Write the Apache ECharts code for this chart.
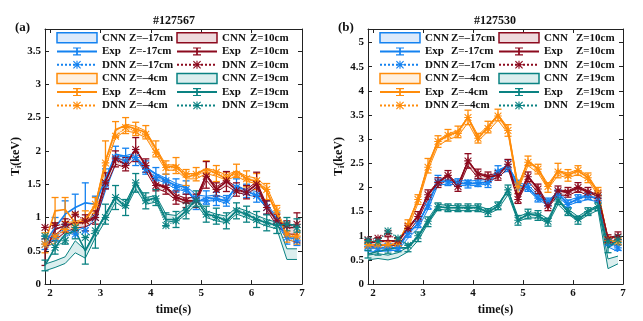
<!DOCTYPE html>
<html><head><meta charset="utf-8">
<script src="https://cdn.jsdelivr.net/npm/echarts@6/dist/echarts.min.js"></script>
<style>html,body{margin:0;padding:0;background:#fff}#c{width:643px;height:321px}</style>
</head><body><div id="c"></div>
<script>
// ---------------- data ----------------
const times = [1.9,2.1,2.3,2.5,2.7,2.9,3.1,3.3,3.5,3.7,3.9,4.1,4.3,4.5,4.7,4.9,5.1,5.3,5.5,5.7,5.9,6.1,6.3,6.5,6.7,6.9];
const xTickValues = [2,3,4,5,6,7];
const yTickValuesA = [0,0.5,1,1.5,2,2.5,3,3.5];
const yTickValuesB = [0,0.5,1,1.5,2,2.5,3,3.5,4,4.5,5];

// (a) #127567
const a_blue_cnn  = [0.60,0.65,0.75,0.85,0.90,1.00,1.45,1.85,1.88,1.92,1.72,1.62,1.55,1.47,1.43,1.30,1.28,1.30,1.25,1.42,1.38,1.35,1.18,0.95,0.72,0.68];
const a_blue_half = [0.04,0.04,0.04,0.05,0.05,0.05,0.05,0.05,0.05,0.05,0.04,0.04,0.04,0.04,0.04,0.04,0.04,0.04,0.04,0.04,0.04,0.04,0.04,0.04,0.05,0.05];
const a_blue_exp  = [0.62,0.85,1.05,1.15,1.22,1.20,1.58,1.95,1.92,1.90,1.75,1.65,1.55,1.48,1.45,1.22,1.30,1.28,1.25,1.48,1.40,1.33,1.15,0.98,0.70,0.68];
const a_blue_err  = [0.10,0.15,0.20,0.20,0.30,0.12,0.15,0.12,0.12,0.12,0.10,0.10,0.10,0.10,0.10,0.10,0.10,0.10,0.08,0.10,0.10,0.10,0.10,0.10,0.10,0.10];
const a_blue_dnn  = [0.60,0.70,0.85,0.75,0.80,1.00,1.50,1.90,1.85,1.90,1.72,1.60,1.55,1.45,1.42,1.28,1.25,1.28,1.25,1.45,1.38,1.33,1.15,0.95,0.70,0.65];

const a_orange_cnn  = [0.62,0.65,0.88,0.90,0.95,1.15,1.80,2.25,2.35,2.32,2.25,2.00,1.75,1.75,1.62,1.62,1.70,1.66,1.60,1.66,1.58,1.55,1.42,1.08,0.72,0.68];
const a_orange_half = [0.04,0.04,0.04,0.04,0.04,0.05,0.05,0.05,0.05,0.05,0.05,0.05,0.04,0.04,0.04,0.04,0.04,0.04,0.04,0.04,0.04,0.04,0.04,0.04,0.05,0.05];
const a_orange_exp  = [0.62,1.10,1.12,0.92,0.95,1.18,1.85,2.32,2.38,2.33,2.28,2.03,1.75,1.78,1.60,1.65,1.73,1.66,1.58,1.70,1.58,1.54,1.39,1.06,0.73,0.70];
const a_orange_err  = [0.15,0.20,0.18,0.15,0.15,0.12,0.30,0.12,0.12,0.10,0.10,0.12,0.10,0.12,0.12,0.10,0.12,0.12,0.10,0.10,0.12,0.12,0.12,0.12,0.10,0.10];
const a_orange_dnn  = [0.60,0.72,0.82,0.88,0.95,1.20,1.82,2.22,2.35,2.30,2.25,1.98,1.75,1.75,1.65,1.65,1.68,1.68,1.60,1.65,1.58,1.55,1.42,1.10,0.75,0.72];

const a_red_cnn  = [0.62,0.70,0.82,0.88,0.90,0.98,1.50,1.85,1.80,1.95,1.75,1.48,1.42,1.30,1.25,1.27,1.60,1.42,1.52,1.42,1.38,1.50,1.15,0.92,0.80,0.80];
const a_red_half = [0.04,0.04,0.04,0.04,0.04,0.04,0.05,0.05,0.05,0.05,0.05,0.04,0.04,0.04,0.04,0.04,0.04,0.04,0.04,0.04,0.04,0.04,0.04,0.04,0.05,0.05];
const a_red_exp  = [0.48,0.82,0.88,0.92,0.92,1.00,1.55,1.88,1.80,2.02,1.78,1.50,1.45,1.30,1.25,1.25,1.64,1.42,1.54,1.42,1.38,1.50,1.15,0.95,0.85,0.85];
const a_red_err  = [0.20,0.10,0.10,0.12,0.12,0.10,0.12,0.12,0.10,0.18,0.10,0.10,0.10,0.10,0.10,0.10,0.20,0.10,0.15,0.10,0.10,0.18,0.10,0.10,0.10,0.22];
const a_red_dnn  = [0.85,0.88,0.90,1.05,0.95,1.00,1.52,1.88,1.78,2.02,1.78,1.48,1.45,1.30,1.25,1.25,1.62,1.42,1.55,1.40,1.38,1.50,1.15,0.95,0.88,0.90];

const a_teal_cnn  = [0.25,0.30,0.36,0.56,0.45,0.75,1.00,1.28,1.18,1.48,1.25,1.28,1.00,0.98,1.10,1.25,1.05,1.00,0.97,1.10,1.05,0.98,0.92,0.88,0.45,0.45];
const a_teal_half = [0.05,0.05,0.05,0.09,0.06,0.05,0.05,0.05,0.05,0.05,0.05,0.05,0.05,0.05,0.05,0.05,0.05,0.05,0.05,0.05,0.05,0.05,0.05,0.05,0.08,0.08];
const a_teal_exp  = [0.28,0.55,0.75,0.80,0.50,0.77,1.05,1.30,1.15,1.52,1.25,1.30,0.97,0.97,1.10,1.28,1.05,1.02,0.95,1.10,1.05,0.97,0.92,0.88,0.90,0.88];
const a_teal_err  = [0.08,0.10,0.15,0.12,0.20,0.23,0.15,0.18,0.12,0.14,0.12,0.12,0.10,0.12,0.12,0.12,0.12,0.12,0.12,0.12,0.12,0.12,0.12,0.12,0.10,0.10];
const a_teal_dnn  = [0.72,0.55,0.65,0.85,0.70,0.80,1.00,1.30,1.18,1.52,1.25,1.28,0.88,0.95,1.10,1.25,1.05,1.00,0.95,1.10,1.05,0.97,0.92,0.88,0.90,0.85];

// (b) #127530
const b_blue_cnn  = [0.72,0.72,0.74,0.75,1.00,1.20,1.60,2.10,2.12,2.10,2.08,2.10,2.12,2.30,2.40,2.05,2.00,1.80,1.68,1.85,1.68,1.75,1.80,1.75,0.85,0.75];
const b_blue_half = [0.05,0.05,0.05,0.05,0.05,0.05,0.05,0.05,0.05,0.05,0.05,0.05,0.05,0.05,0.05,0.05,0.05,0.05,0.05,0.05,0.05,0.05,0.05,0.05,0.08,0.08];
const b_blue_exp  = [0.75,0.75,0.75,0.75,1.05,1.25,1.65,2.15,2.12,2.10,2.07,2.10,2.10,2.35,2.45,2.05,2.00,1.78,1.70,1.87,1.66,1.77,1.83,1.77,0.88,0.78];
const b_blue_err  = [0.06,0.06,0.06,0.06,0.08,0.08,0.10,0.10,0.08,0.08,0.08,0.08,0.10,0.10,0.12,0.10,0.08,0.08,0.08,0.08,0.08,0.08,0.08,0.08,0.08,0.08];
const b_blue_dnn  = [0.78,0.75,0.78,0.75,1.05,1.25,1.62,2.12,2.12,2.08,2.10,2.08,2.10,2.32,2.42,2.02,2.00,1.78,1.68,1.87,1.65,1.77,1.82,1.78,0.85,0.75];

const b_orange_cnn  = [0.78,0.80,0.80,0.82,1.20,1.72,2.42,2.92,3.05,3.12,3.40,3.02,3.22,3.45,3.18,2.00,2.50,2.35,2.02,2.30,2.25,2.32,2.20,1.88,0.88,0.85];
const b_orange_half = [0.05,0.05,0.05,0.05,0.05,0.05,0.06,0.06,0.06,0.06,0.06,0.06,0.06,0.06,0.06,0.05,0.05,0.05,0.05,0.05,0.05,0.05,0.05,0.05,0.05,0.05];
const b_orange_exp  = [0.80,0.82,0.80,0.85,1.25,1.75,2.45,2.95,3.08,3.15,3.45,3.02,3.25,3.50,3.18,2.00,2.55,2.38,2.00,2.35,2.25,2.35,2.20,1.90,0.90,0.88];
const b_orange_err  = [0.06,0.06,0.06,0.06,0.08,0.10,0.15,0.12,0.12,0.12,0.15,0.10,0.12,0.12,0.12,0.12,0.10,0.10,0.10,0.15,0.12,0.10,0.10,0.10,0.08,0.08];
const b_orange_dnn  = [0.82,0.82,0.82,0.85,1.22,1.75,2.42,2.95,3.08,3.12,3.45,3.02,3.22,3.48,3.18,2.02,2.52,2.38,2.02,2.32,2.25,2.35,2.20,1.90,0.90,0.88];

const b_red_cnn  = [0.82,0.85,0.85,0.85,1.12,1.38,1.82,2.08,2.22,2.02,2.50,2.25,2.20,2.25,2.45,1.78,2.18,1.95,1.62,1.90,1.88,1.98,1.88,1.80,0.90,0.95];
const b_red_half = [0.05,0.05,0.05,0.05,0.05,0.05,0.05,0.05,0.05,0.05,0.05,0.05,0.05,0.05,0.05,0.05,0.05,0.05,0.05,0.05,0.05,0.05,0.05,0.05,0.06,0.06];
const b_red_exp  = [0.85,0.88,0.90,0.88,1.15,1.40,1.85,2.10,2.25,2.02,2.55,2.28,2.22,2.25,2.48,1.77,2.22,1.97,1.60,1.93,1.90,2.00,1.90,1.83,0.94,1.00];
const b_red_err  = [0.08,0.08,0.08,0.08,0.10,0.10,0.10,0.10,0.10,0.10,0.15,0.10,0.10,0.10,0.10,0.10,0.10,0.10,0.08,0.10,0.10,0.10,0.10,0.10,0.08,0.08];
const b_red_dnn  = [0.92,0.95,1.05,0.90,1.15,1.40,1.85,2.10,2.25,2.02,2.55,2.28,2.22,2.25,2.48,1.75,2.22,1.97,1.62,1.93,1.90,2.00,1.90,1.83,0.92,0.98];

const b_teal_cnn  = [0.55,0.58,0.55,0.60,0.72,0.95,1.30,1.60,1.58,1.57,1.57,1.57,1.50,1.60,1.90,1.35,1.42,1.42,1.30,1.70,1.50,1.35,1.48,1.58,0.42,0.50];
const b_teal_half = [0.05,0.05,0.05,0.05,0.05,0.05,0.05,0.05,0.05,0.05,0.05,0.05,0.05,0.05,0.05,0.05,0.05,0.05,0.05,0.05,0.05,0.05,0.05,0.05,0.10,0.08];
const b_teal_exp  = [0.62,0.68,0.72,0.75,0.75,0.98,1.29,1.60,1.58,1.58,1.58,1.58,1.48,1.62,1.95,1.32,1.45,1.42,1.28,1.75,1.50,1.32,1.50,1.60,0.75,0.92];
const b_teal_err  = [0.08,0.08,0.08,0.08,0.08,0.10,0.10,0.08,0.08,0.08,0.08,0.08,0.08,0.08,0.10,0.10,0.10,0.10,0.08,0.10,0.08,0.08,0.08,0.08,0.10,0.10];
const b_teal_dnn  = [0.90,0.88,1.10,0.95,0.80,1.00,1.30,1.60,1.58,1.58,1.57,1.58,1.50,1.62,1.95,1.32,1.45,1.42,1.30,1.72,1.50,1.35,1.50,1.60,0.88,0.92];

// ---------------- styles ----------------
const FONT = 'Liberation Serif';
const COLORS = { blue:'#1482f0', orange:'#ff8c0a', red:'#8c0a1e', teal:'#0a8282' };
const LIGHTS = { blue:'#dceafb', orange:'#fff0df', red:'#eedadd', teal:'#dbeeee' };
const STAR  = 'path://M4.3 0H5.7V10H4.3Z M0 4.3H10V5.7H0Z M0 1L1 0L10 9L9 10Z M9 0L10 1L1 10L0 9Z';
const IBEAM = 'path://M2 0H8V1.3H2Z M4.35 0H5.65V10H4.35Z M2 8.7H8V10H2Z';

const series = [];
const legendItems = {a1:[],a2:[],b1:[],b2:[]};
const labelMap = {};

function addGroup(gi, tag, col, key, zTxt, zTxtExp, cnn, half, exp, err, dnn) {
  const c = COLORS[key], l = LIGHTS[key];
  const nC = 'CNN ' + zTxt + ' ' + tag, nE = 'Exp ' + zTxtExp + ' ' + tag, nD = 'DNN ' + zTxt + ' ' + tag;
  labelMap[nC] = ['CNN', zTxt]; labelMap[nE] = ['Exp', zTxtExp]; labelMap[nD] = ['DNN', zTxt];
  series.push({
    type:'custom', name:nC, xAxisIndex:gi*2, yAxisIndex:gi*2, silent:true,
    itemStyle:{color:l},
    data: times.map((t,i)=>[t, cnn[i]]),
    renderItem:(params, api)=>{
      if (params.dataIndex !== 0) return null;
      const up = [], lo = [];
      for (let i=0;i<times.length;i++){
        up.push(api.coord([times[i], cnn[i]+half[i]]));
        lo.push(api.coord([times[i], cnn[i]-half[i]]));
      }
      return {type:'group', children:[
        {type:'polygon', shape:{points: up.concat(lo.slice().reverse())}, style:{fill:l, stroke:null}},
        {type:'polyline', shape:{points:up}, style:{stroke:c, lineWidth:1, fill:null}},
        {type:'polyline', shape:{points:lo}, style:{stroke:c, lineWidth:1, fill:null}}
      ]};
    }
  });
  series.push({
    type:'line', name:nE, xAxisIndex:gi*2, yAxisIndex:gi*2, silent:true,
    data: times.map((t,i)=>[t, exp[i]]), symbol:IBEAM, showSymbol:false,
    lineStyle:{color:c, width:1.6}, itemStyle:{color:c}, animation:false
  });
  series.push({
    type:'custom', name:'err ' + nE, xAxisIndex:gi*2, yAxisIndex:gi*2, silent:true,
    data: times.map((t,i)=>[t, exp[i], err[i]]),
    renderItem:(params, api)=>{
      const x = api.value(0), y = api.value(1), e = api.value(2);
      const p1 = api.coord([x, y+e]), p2 = api.coord([x, y-e]);
      const s = {stroke:c, lineWidth:1.3};
      return {type:'group', children:[
        {type:'line', shape:{x1:p1[0],y1:p1[1],x2:p2[0],y2:p2[1]}, style:s},
        {type:'line', shape:{x1:p1[0]-3.5,y1:p1[1],x2:p1[0]+3.5,y2:p1[1]}, style:s},
        {type:'line', shape:{x1:p2[0]-3.5,y1:p2[1],x2:p2[0]+3.5,y2:p2[1]}, style:s}
      ]};
    }
  });
  series.push({
    type:'line', name:nD, xAxisIndex:gi*2, yAxisIndex:gi*2, silent:true,
    data: times.map((t,i)=>[t, dnn[i]]), symbol:STAR, symbolSize:7.5, showSymbol:true,
    lineStyle:{color:c, width:1.2, type:'dotted'}, itemStyle:{color:c}, animation:false
  });
  const list = legendItems[tag + col];
  list.push({name:nC, icon:'rect', itemStyle:{color:l, borderColor:c, borderWidth:1.5}});
  list.push({name:nE});
  list.push({name:nD});
}

addGroup(0,'a','1','blue','Z=\u201317cm','Z=-17cm', a_blue_cnn,a_blue_half,a_blue_exp,a_blue_err,a_blue_dnn);
addGroup(0,'a','1','orange','Z=\u20134cm','Z=-4cm', a_orange_cnn,a_orange_half,a_orange_exp,a_orange_err,a_orange_dnn);
addGroup(0,'a','2','red','Z=10cm','Z=10cm', a_red_cnn,a_red_half,a_red_exp,a_red_err,a_red_dnn);
addGroup(0,'a','2','teal','Z=19cm','Z=19cm', a_teal_cnn,a_teal_half,a_teal_exp,a_teal_err,a_teal_dnn);
addGroup(1,'b','1','blue','Z=\u201317cm','Z=-17cm', b_blue_cnn,b_blue_half,b_blue_exp,b_blue_err,b_blue_dnn);
addGroup(1,'b','1','orange','Z=\u20134cm','Z=-4cm', b_orange_cnn,b_orange_half,b_orange_exp,b_orange_err,b_orange_dnn);
addGroup(1,'b','2','red','Z=10cm','Z=10cm', b_red_cnn,b_red_half,b_red_exp,b_red_err,b_red_dnn);
addGroup(1,'b','2','teal','Z=19cm','Z=19cm', b_teal_cnn,b_teal_half,b_teal_exp,b_teal_err,b_teal_dnn);

function legend(key, left, labW) {
  return {
    orient:'vertical', left:left, top:32, padding:0, itemGap:2.4, itemWidth:40, itemHeight:10,
    selectedMode:false, data:legendItems[key],
    formatter:(name)=>'{n|' + labelMap[name][0] + '}{z|' + labelMap[name][1] + '}',
    textStyle:{ rich:{
      n:{fontFamily:FONT, fontWeight:'bold', fontSize:11, color:'#111', width:labW},
      z:{fontFamily:FONT, fontWeight:'bold', fontSize:11, color:'#111'}
    }}
  };
}

const lab = {fontFamily:FONT, fontWeight:'bold', fontSize:11, color:'#111'};
function xAx(gi, top) {
  return {
    type:'value', gridIndex:gi, position: top ? 'top' : 'bottom', min:1.9, max:7,
    name: top ? '' : 'time(s)', nameLocation:'middle', nameGap:17,
    nameTextStyle:{fontFamily:FONT, fontWeight:'bold', fontSize:12, color:'#111'},
    axisLine:{show:true, onZero:false, lineStyle:{color:'#222', width:1}},
    axisTick:{show:true, inside:true, length:4, lineStyle:{color:'#222'}, customValues:xTickValues},
    axisLabel:{show:!top, margin:4, customValues:xTickValues, ...lab},
    splitLine:{show:false}
  };
}
function yAx(gi, right, max, ticks) {
  return {
    type:'value', gridIndex:gi, position: right ? 'right' : 'left', min:0, max:max,
    name: right ? '' : '{a|T}{s|i}{a|(keV)}', nameLocation:'middle', nameGap:14, nameRotate:90,
    nameTextStyle:{rich:{
      a:{fontFamily:FONT, fontWeight:'bold', fontSize:12, color:'#111', lineHeight:14},
      s:{fontFamily:FONT, fontWeight:'bold', fontSize:8, color:'#111', lineHeight:8, verticalAlign:'bottom'}
    }},
    axisLine:{show:true, onZero:false, lineStyle:{color:'#222', width:1}},
    axisTick:{show:true, inside:true, length:4, lineStyle:{color:'#222'}, customValues:ticks},
    axisLabel:{show:!right, margin:4, customValues:ticks, ...lab},
    splitLine:{show:false}
  };
}

const tStyle = {fontFamily:FONT, fontWeight:'bold', fontSize:12, color:'#111'};
const option = {
  animation:false,
  backgroundColor:'#fff',
  title:[
    {text:'#127567', left:174, top:15, padding:0, textAlign:'center', textStyle:tStyle},
    {text:'#127530', left:495, top:15, padding:0, textAlign:'center', textStyle:tStyle},
    {text:'(a)', left:15, top:21, padding:0, textStyle:{...tStyle, fontSize:13}},
    {text:'(b)', left:338, top:21, padding:0, textStyle:{...tStyle, fontSize:13}}
  ],
  grid:[
    {left:45, top:29, width:257, height:256},
    {left:368, top:29, width:255, height:256}
  ],
  xAxis:[xAx(0,false), xAx(0,true), xAx(1,false), xAx(1,true)],
  yAxis:[yAx(0,false,3.83,yTickValuesA), yAx(0,true,3.83,yTickValuesA), yAx(1,false,5.28,yTickValuesB), yAx(1,true,5.28,yTickValuesB)],
  legend:[legend('a1',56,27), legend('a2',176,28), legend('b1',379,26), legend('b2',498,32)],
  series: series
};

const chart = echarts.init(document.getElementById('c'), null, {renderer:'canvas'});
chart.setOption(option);
</script>
</body></html>
